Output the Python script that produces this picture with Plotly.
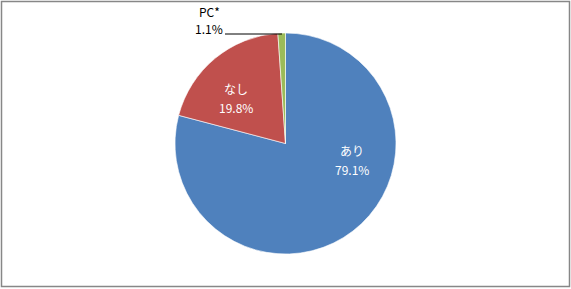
import plotly.graph_objects as go

labels = ["あり", "なし", "PC*"]
values = [79.1, 19.8, 1.1]
colors = ["#4F81BD", "#C0504D", "#9BBB59"]

W, H = 571, 289
fig = go.Figure(go.Pie(
    labels=labels, values=values, sort=False, direction="clockwise", rotation=0,
    marker=dict(colors=colors, line=dict(color="white", width=0.6)),
    textinfo="none", hoverinfo="label+percent", showlegend=False,
    domain=dict(x=[0, 1], y=[35 / H, 256 / H]),
))

font = "Noto Sans CJK JP, Noto Sans, sans-serif"
def px(x, y):
    return x / W, 1 - y / H

ann = []
label_pos = {"あり": (352, 150, 169, "white"), "なし": (236, 88, 107, "white"), "PC*": (209, 12, 29, "black")}
for lab, val in zip(labels, values):
    x, y1, y2, c = label_pos[lab]
    for txt, yy in ((lab, y1), (f"{val:.1f}%", y2)):
        ax, ay = px(x, yy)
        ann.append(dict(x=ax, y=ay, xref="paper", yref="paper", text=txt, showarrow=False,
                        font=dict(family=font, size=12, color=c), xanchor="center", yanchor="middle"))

shapes = [
    dict(type="rect", xref="paper", yref="paper", x0=1.5 / W, x1=1 - 1.5 / W, y0=1 - 286.5 / H, y1=1 - 1.5 / H,
         line=dict(color="#878787", width=1.5)),
    dict(type="line", xref="paper", yref="paper", x0=225 / W, x1=282 / W, y0=1 - 34 / H, y1=1 - 34 / H,
         line=dict(color="black", width=1)),
]

fig.update_layout(width=W, height=H, margin=dict(l=0, r=0, t=0, b=0),
                  paper_bgcolor="white", plot_bgcolor="white",
                  annotations=ann, shapes=shapes)
fig.write_html("out.html")
